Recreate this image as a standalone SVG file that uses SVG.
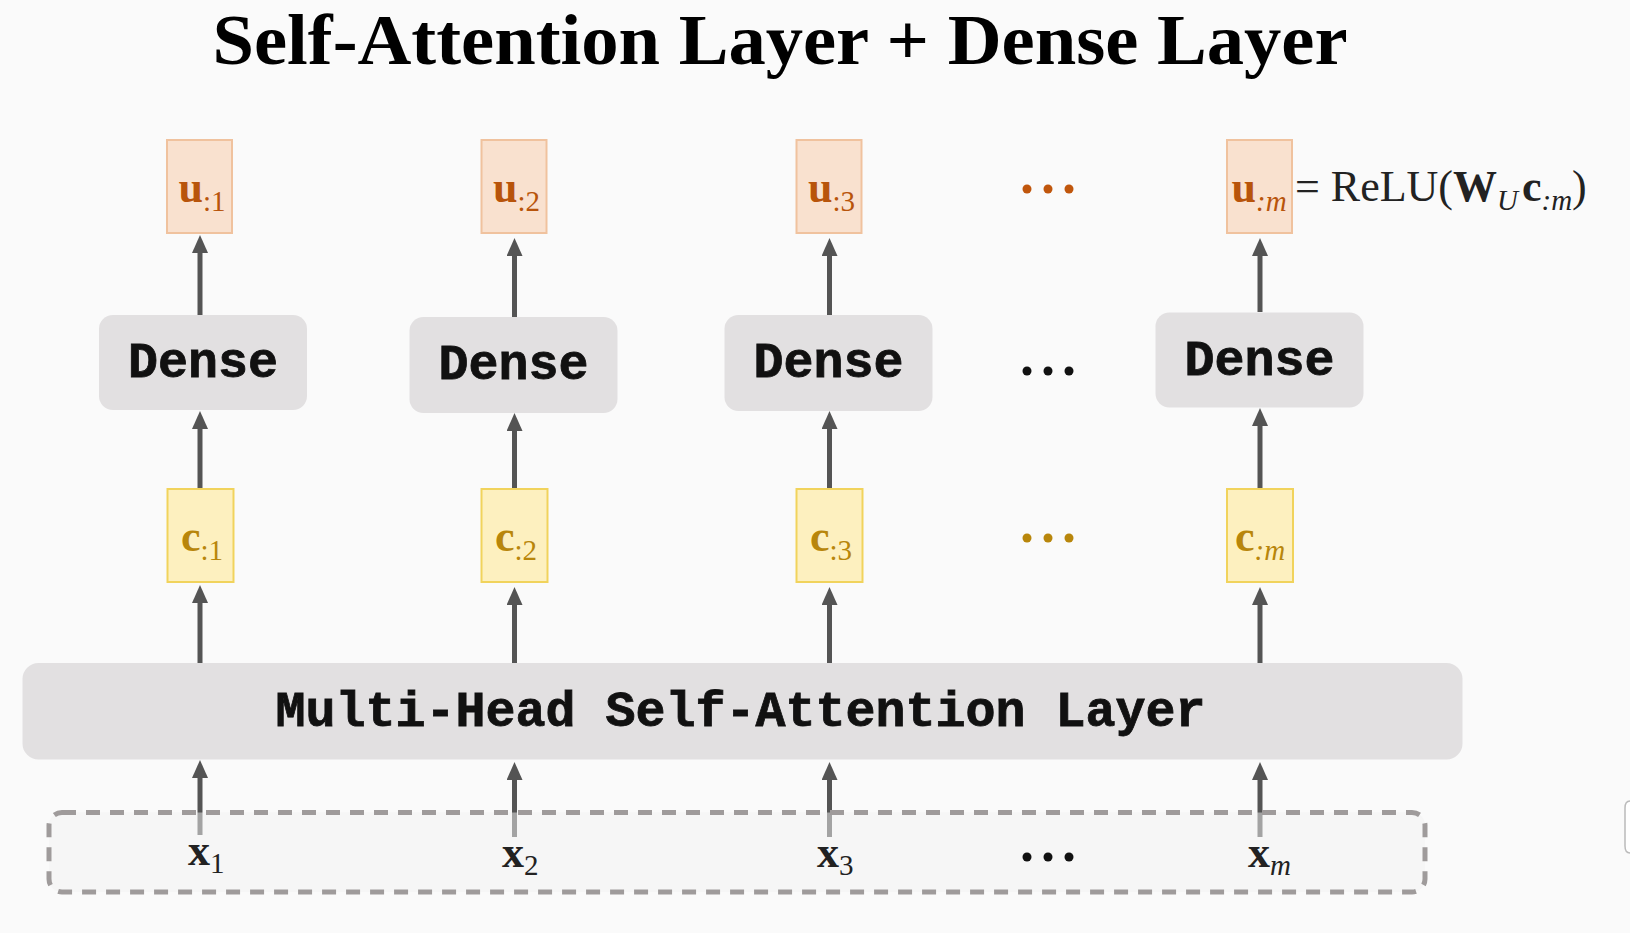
<svg xmlns="http://www.w3.org/2000/svg" width="1630" height="933" viewBox="0 0 1630 933">
<style>
.bg{fill:#fafafa}
.ubox{fill:#f9e1cf;stroke:#f0c29e;stroke-width:2}
.cbox{fill:#fdf0bf;stroke:#f1d35c;stroke-width:2}
.gbox{fill:#e2e0e1}
.mono{font-family:"Liberation Mono","Courier New",monospace;font-weight:bold;font-size:50px;fill:#111;stroke:#111;stroke-width:0.8}
.m{font-family:"Liberation Serif","Times New Roman",serif;font-size:44px}
.b{font-weight:bold}
.sub{font-size:29px}
.it{font-style:italic}
.ut{fill:#b8540b}
.ct{fill:#b8860b}
.kt{fill:#222}
.conn line{stroke:#545454;stroke-width:5;marker-end:url(#ah)}
</style>
<defs>
<marker id="ah" viewBox="0 0 18 16" markerWidth="18" markerHeight="16" refX="2" refY="8" orient="auto" markerUnits="userSpaceOnUse">
<path d="M0,0 L18,8 L0,16 z" fill="#545454"/>
</marker>
</defs>
<rect class="bg" x="0" y="0" width="1630" height="933"/>
<text x="780" y="64" text-anchor="middle" textLength="1135" lengthAdjust="spacingAndGlyphs" style="font-family:'Liberation Serif','Times New Roman',serif;font-weight:bold;font-size:72px;fill:#000">Self-Attention Layer + Dense Layer</text>

<g class="conn" id="connectors">
<line x1="200" y1="315" x2="200" y2="251"/>
<line x1="514.5" y1="317" x2="514.5" y2="254"/>
<line x1="829.5" y1="315" x2="829.5" y2="254"/>
<line x1="1260" y1="312" x2="1260" y2="254"/>
<line x1="200" y1="489" x2="200" y2="427"/>
<line x1="514.5" y1="489" x2="514.5" y2="429"/>
<line x1="829.5" y1="489" x2="829.5" y2="427"/>
<line x1="1260" y1="489" x2="1260" y2="424"/>
<line x1="200" y1="663" x2="200" y2="601"/>
<line x1="514.5" y1="663" x2="514.5" y2="603"/>
<line x1="829.5" y1="663" x2="829.5" y2="603"/>
<line x1="1260" y1="663" x2="1260" y2="603"/>
<line x1="200" y1="835" x2="200" y2="776"/>
<line x1="514.5" y1="837" x2="514.5" y2="778"/>
<line x1="829.5" y1="837" x2="829.5" y2="778"/>
<line x1="1260" y1="837" x2="1260" y2="778"/>
</g>

<g id="u1"><rect class="ubox" x="167" y="140" width="65" height="93"/>
<text class="m" x="178.5" y="201.5"><tspan class="b ut">u</tspan><tspan class="sub ut" dy="9">:1</tspan></text></g>
<g id="u2"><rect class="ubox" x="481.5" y="140" width="65" height="93"/>
<text class="m" x="493" y="201.5"><tspan class="b ut">u</tspan><tspan class="sub ut" dy="9">:2</tspan></text></g>
<g id="u3"><rect class="ubox" x="796.5" y="140" width="65" height="93"/>
<text class="m" x="808" y="201.5"><tspan class="b ut">u</tspan><tspan class="sub ut" dy="9">:3</tspan></text></g>
<g id="um"><rect class="ubox" x="1227" y="140" width="65" height="93"/>
<text class="m" x="1231.5" y="201.5"><tspan class="b ut">u</tspan><tspan class="sub ut it" dy="9">:m</tspan></text></g>
<g id="formula"><text class="m kt" x="1295" y="200.5">= ReLU(<tspan class="b">W</tspan><tspan class="sub it" dy="9">U</tspan><tspan class="b" dy="-9" dx="4">c</tspan><tspan class="sub it" dy="9">:m</tspan><tspan dy="-9">)</tspan></text></g>
<g id="udots" fill="#c0560c"><circle cx="1027" cy="189" r="4.5"/><circle cx="1048" cy="189" r="4.5"/><circle cx="1069" cy="189" r="4.5"/></g>

<g id="dense1"><rect class="gbox" x="99" y="315" width="208" height="95" rx="14"/><text class="mono" x="203" y="377" text-anchor="middle">Dense</text></g>
<g id="dense2"><rect class="gbox" x="409.5" y="317" width="208" height="96" rx="14"/><text class="mono" x="513.5" y="379" text-anchor="middle">Dense</text></g>
<g id="dense3"><rect class="gbox" x="724.5" y="315" width="208" height="96" rx="14"/><text class="mono" x="828.5" y="377" text-anchor="middle">Dense</text></g>
<g id="dense4"><rect class="gbox" x="1155.5" y="312.5" width="208" height="95" rx="14"/><text class="mono" x="1259.5" y="374.5" text-anchor="middle">Dense</text></g>
<g id="ddots" fill="#111"><circle cx="1027" cy="371" r="4.5"/><circle cx="1048" cy="371" r="4.5"/><circle cx="1069" cy="371" r="4.5"/></g>

<g id="c1"><rect class="cbox" x="167.5" y="489" width="66" height="93"/>
<text class="m" x="181" y="550.5"><tspan class="b ct">c</tspan><tspan class="sub ct" dy="9">:1</tspan></text></g>
<g id="c2"><rect class="cbox" x="481.5" y="489" width="66" height="93"/>
<text class="m" x="495" y="550.5"><tspan class="b ct">c</tspan><tspan class="sub ct" dy="9">:2</tspan></text></g>
<g id="c3"><rect class="cbox" x="796.5" y="489" width="66" height="93"/>
<text class="m" x="810" y="550.5"><tspan class="b ct">c</tspan><tspan class="sub ct" dy="9">:3</tspan></text></g>
<g id="cm"><rect class="cbox" x="1227" y="489" width="66" height="93"/>
<text class="m" x="1235" y="550.5"><tspan class="b ct">c</tspan><tspan class="sub ct it" dy="9">:m</tspan></text></g>
<g id="cdots" fill="#b8860b"><circle cx="1027" cy="538" r="4.5"/><circle cx="1048" cy="538" r="4.5"/><circle cx="1069" cy="538" r="4.5"/></g>

<g id="mhsa"><rect class="gbox" x="22.5" y="663" width="1440" height="96.5" rx="16"/><text class="mono" x="740.5" y="726" text-anchor="middle">Multi-Head Self-Attention Layer</text></g>

<g id="inputs">
<rect x="49" y="812.5" width="1376" height="79.5" rx="13" fill="#f2f2f2" fill-opacity="0.5" stroke="#9f9b9b" stroke-width="5" stroke-dasharray="14 10"/>
<text class="m kt" x="188" y="865"><tspan class="b">x</tspan><tspan class="sub" dy="8">1</tspan></text>
<text class="m kt" x="502" y="867"><tspan class="b">x</tspan><tspan class="sub" dy="8">2</tspan></text>
<text class="m kt" x="817" y="867"><tspan class="b">x</tspan><tspan class="sub" dy="8">3</tspan></text>
<text class="m kt" x="1248" y="867"><tspan class="b">x</tspan><tspan class="sub it" dy="8">m</tspan></text>
<g fill="#111"><circle cx="1027" cy="857" r="4.5"/><circle cx="1048" cy="857" r="4.5"/><circle cx="1069" cy="857" r="4.5"/></g>
</g>
<path d="M1630,801 L1632,801 L1632,853 L1630,853 Q1625,853 1625,846 L1625,808 Q1625,801 1630,801 z" fill="#fff" stroke="#bbb" stroke-width="1.5"/>
</svg>
